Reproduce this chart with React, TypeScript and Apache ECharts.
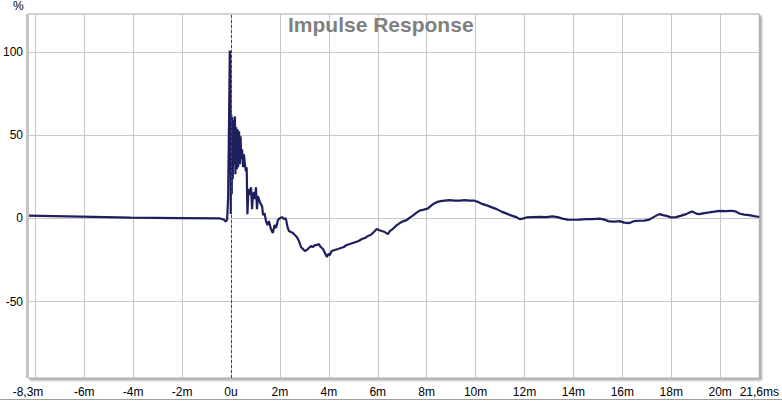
import React, { useEffect, useRef } from "react";
import * as echarts from "echarts";

// time in ms
const times = [
  -8.3, -6.16, -4.12, -2.08, -0.45, -0.29, -0.22, -0.16, -0.12, -0.08, -0.05, -0.03, -0.01,
  0.01, 0.03, 0.05, 0.07, 0.1, 0.13, 0.16, 0.18, 0.21, 0.24, 0.27, 0.29, 0.33, 0.36, 0.39, 0.42,
  0.45, 0.49, 0.53, 0.57, 0.61, 0.64, 0.67, 0.71, 0.76, 0.8, 0.82, 0.86, 0.9, 0.94, 0.98, 1.02,
  1.06, 1.1, 1.14, 1.18, 1.22, 1.27, 1.31, 1.37, 1.43, 1.49, 1.55, 1.63, 1.71, 1.78, 1.84, 1.92,
  2.0, 2.08, 2.16, 2.24, 2.31, 2.37, 2.45, 2.53, 2.61, 2.69, 2.78, 2.86, 2.94, 3.02, 3.1, 3.18,
  3.27, 3.35, 3.43, 3.51, 3.59, 3.67, 3.76, 3.84, 3.92, 3.98, 4.04, 4.12, 4.24, 4.37, 4.49, 4.61,
  4.73, 4.86, 4.98, 5.1, 5.22, 5.35, 5.47, 5.59, 5.71, 5.84, 5.96, 6.04, 6.16, 6.29, 6.41, 6.49,
  6.61, 6.78, 6.9, 7.06, 7.18, 7.31, 7.43, 7.59, 7.71, 7.88, 8.04, 8.16, 8.29, 8.41, 8.57, 8.73,
  8.94, 9.14, 9.35, 9.55, 9.76, 9.96, 10.12, 10.29, 10.49, 10.69, 10.86, 11.06, 11.27, 11.47,
  11.67, 11.8, 11.92, 12.08, 12.33, 12.61, 12.9, 13.14, 13.35, 13.55, 13.76, 13.96, 14.24, 14.53,
  14.78, 15.06, 15.27, 15.47, 15.67, 15.88, 16.08, 16.29, 16.49, 16.69, 16.9, 17.1, 17.31, 17.51,
  17.67, 17.84, 18.0, 18.2, 18.41, 18.61, 18.73, 18.86, 19.02, 19.14, 19.35, 19.55, 19.76, 19.96,
  20.2, 20.49, 20.65, 20.78, 20.98, 21.18, 21.39, 21.55, 21.6,
];

// impulse response, %
const response = [
  1.7, 1.1, 0.5, 0.2, 0.0, -0.7, -1.9, -0.7, 11.6, 59.8, 101, 92, 2.6,
  62.6, 14.6, 60.8, 23.6, 59.2, 32.6, 61.4, 26.6, 54.8, 29.6, 53.6, 30.8, 52.4, 32.6, 49.4, 35.6,
  41.6, 30.8, 38.6, 32, 28.4, 30.8, 2.6, 16.4, 17.6, 14, 18.8, 5.6, 14, 15.8, 11.6, 18.8,
  5.6, 13.4, 11.6, 9.8, 8.6, 7.4, 2, 3.2, -1.6, -4, -1.6, -6.4, -8.8, -4, -5.8, -1,
  0.2, 0.8, -0.4, 0.2, -5.2, -7.6, -8.2, -8.8, -10, -11.2, -13.6, -17.2, -18.4, -19.6, -19, -17.8,
  -16.6, -17.2, -16, -16, -15.4, -17.2, -18.4, -20.8, -23.2, -21.4, -22, -19.6, -19, -18.4, -17.8, -17.2,
  -16, -15.4, -14.8, -14.2, -13.6, -12.4, -11.8, -10.6, -10, -8.2, -6.4, -7, -7.6, -8.2, -9.4, -7.6,
  -6.4, -4, -2.8, -1.6, -1, 0.5, 1.7, 3.5, 4.7, 5.3, 5.9, 7.4, 8.9, 9.8, 10.4, 10.7,
  11, 10.7, 10.7, 11, 10.7, 10.7, 9.8, 8.6, 7.7, 6.5, 5.6, 4.1, 2.9, 1.7,
  0.8, -0.4, -0.1, 0.6, 0.8, 1.0, 0.8, 1.2, 0.8, -0.1, -0.7, -0.8, -0.7, -0.4,
  -0.4, -0.1, -0.7, -1.8, -1.9, -1.6, -2.5, -2.8, -1.6, -1.4, -1.3, -0.7, 1.1, 2.6,
  2.0, 1.4, 0.6, 0.8, 1.7, 2.6, 3.5, 4.2, 2.9, 2.6, 3.2, 3.6, 4.1, 4.6,
  4.4, 4.6, 4.1, 3.0, 2.3, 2.0, 1.4, 1.0, 0.9,
];

const xGridTicks = [-8, -6, -4, -2, 0, 2, 4, 6, 8, 10, 12, 14, 16, 18, 20];
const xLabelTicks = [-8.3, -6, -4, -2, 0, 2, 4, 6, 8, 10, 12, 14, 16, 18, 20, 21.6];
const yTicks = [-50, 0, 50, 100];
const xMin = -8.3;
const xMax = 21.6;
const yMin = -96;
const yMax = 123;

function fmtX(v: number): string {
  if (Math.abs(v - xMin) < 1e-6) return "-8,3m";
  if (Math.abs(v - xMax) < 1e-6) return "21,6ms";
  if (v === 0) return "0u";
  return `${v}m`;
}

export default function App() {
  const ref = useRef<HTMLDivElement>(null);
  useEffect(() => {
    if (!ref.current) return;
    const chart = echarts.init(ref.current, undefined, { renderer: "svg" });
    const data = times.map((t, i) => [t, response[i]]);
    chart.setOption({
      animation: false,
      backgroundColor: "#ffffff",
      textStyle: { fontFamily: "Liberation Sans, Arial, sans-serif" },
      grid: {
        left: 28,
        right: 22,
        top: 14,
        bottom: 23,
        show: true,
        backgroundColor: "#ffffff",
        borderColor: "#a8a8a8",
        borderWidth: 1,
        shadowColor: "rgba(0,0,0,0.35)",
        shadowBlur: 2,
        shadowOffsetX: 2,
        shadowOffsetY: 2,
      },
      graphic: [
        {
          type: "rect",
          shape: { x: 26, y: 14, width: 3, height: 364 },
          style: { fill: "#c4c4c4" },
          z: 10,
        },
        {
          type: "line",
          shape: { x1: 0, y1: 399.5, x2: 782, y2: 399.5 },
          style: { stroke: "#a0a0a0", lineWidth: 1 },
        },
        {
          type: "text",
          x: 13,
          y: 0,
          style: { text: "%", fill: "#000", font: "12px Liberation Sans, Arial, sans-serif" },
        },
        {
          type: "text",
          x: 288,
          y: 14,
          style: {
            text: "Impulse Response",
            fill: "#808080",
            font: "bold 21px Liberation Sans, Arial, sans-serif",
          },
          z: 20,
        },
      ],
      xAxis: {
        type: "value",
        min: xMin,
        max: xMax,
        axisLine: { show: false },
        axisTick: { show: false, customValues: xGridTicks },
        splitLine: { show: true, lineStyle: { color: "#c8c8c8", width: 1 } },
        axisLabel: {
          customValues: xLabelTicks,
          formatter: fmtX,
          color: "#000",
          fontSize: 12,
          margin: 8,
          fontFamily: "Liberation Sans, Arial, sans-serif",
        },
      },
      yAxis: {
        type: "value",
        min: yMin,
        max: yMax,
        axisLine: { show: false },
        axisTick: { show: false, customValues: yTicks },
        splitLine: { show: true, lineStyle: { color: "#c8c8c8", width: 1 } },
        axisLabel: {
          customValues: yTicks,
          color: "#000",
          fontSize: 12,
          margin: 5,
          fontFamily: "Liberation Sans, Arial, sans-serif",
        },
      },
      series: [
        {
          type: "line",
          data,
          showSymbol: false,
          symbol: "none",
          lineStyle: { color: "#1f1f5e", width: 2.2 },
          z: 5,
          markLine: {
            silent: true,
            symbol: "none",
            label: { show: false },
            lineStyle: { color: "#c01010", type: [3, 2], width: 1, opacity: 1 },
            emphasis: { disabled: true },
            data: [{ xAxis: 0 }],
            z: 6,
          },
        },
      ],
    });
    return () => chart.dispose();
  }, []);
  return <div ref={ref} style={{ position: "fixed", left: 0, top: 0, width: 782, height: 401 }} />;
}
